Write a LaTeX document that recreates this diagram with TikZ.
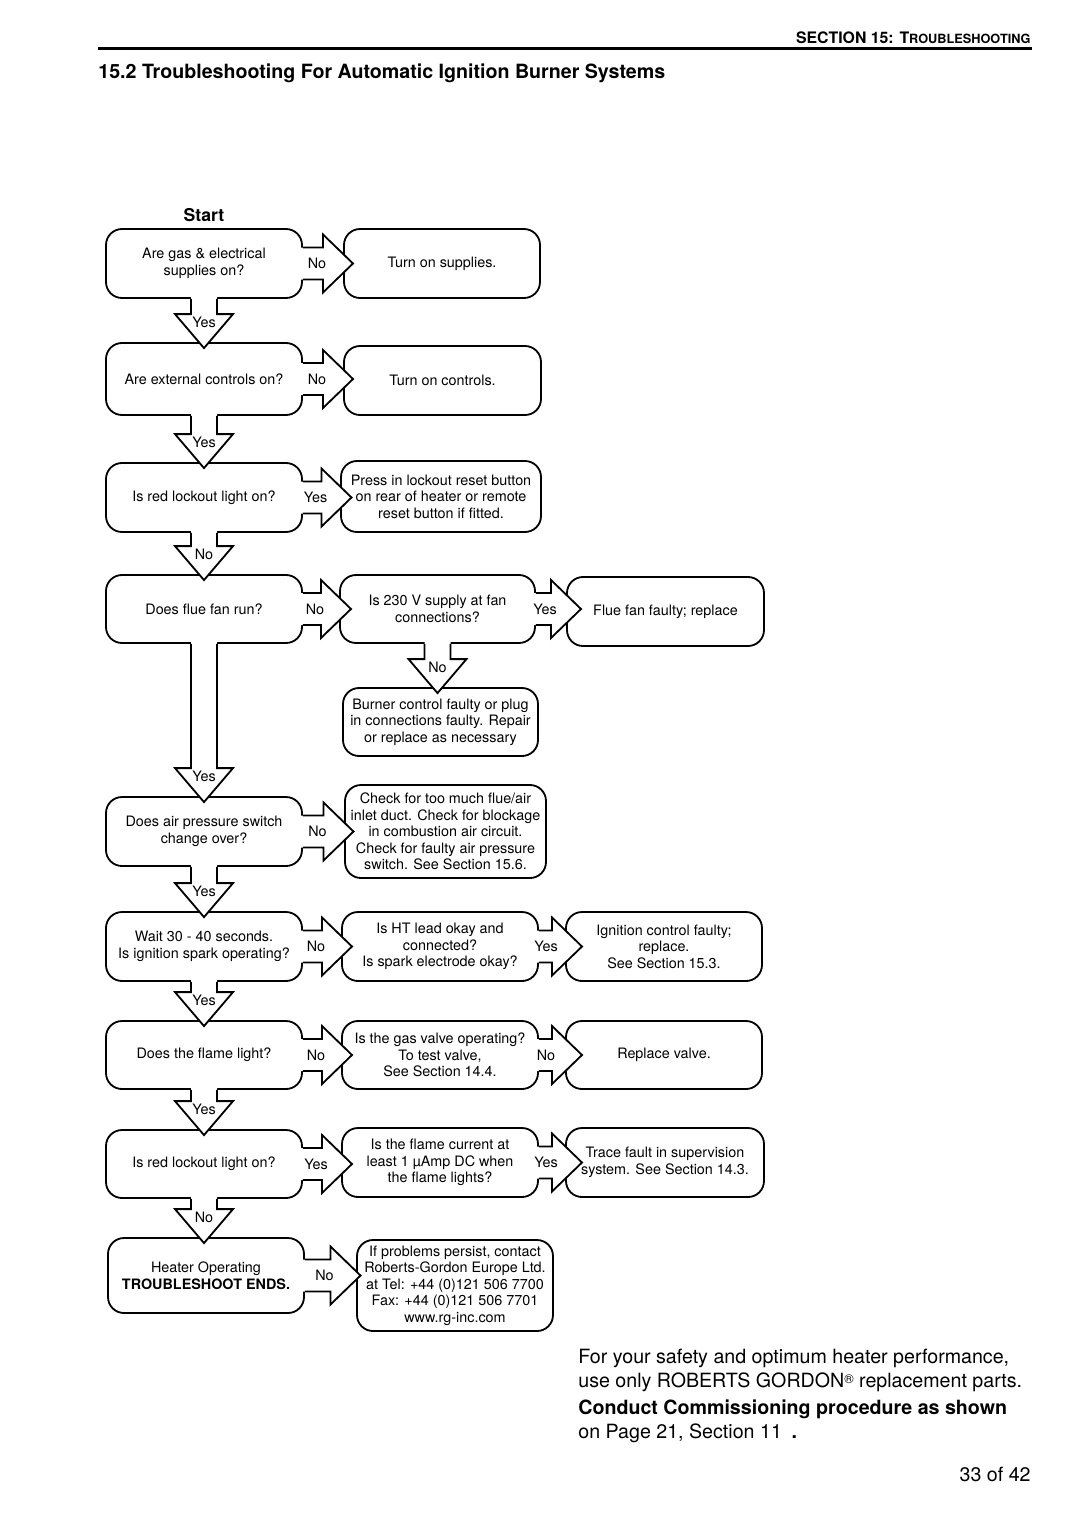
\documentclass[tikz,border=0pt]{standalone}
\usepackage{fontspec}
\setmainfont{TeX Gyre Heros}
\usetikzlibrary{calc}

\newcommand{\px}{0.55pt}
\newcommand{\boxfont}{\fontsize{7.9}{9.1}\selectfont}

% block arrow to the right, from box #1 into box #2
\newcommand{\rarrow}[3]{%
  \coordinate (hs) at (#1.east);
  \coordinate (hb) at ($(#1.east)!0.5!(#2.west |- #1.east)$);
  \fill[white] ($(hs)+(-3,-16)$) -- ($(hb)+(0,-16)$) -- ($(hb)+(0,-29)$) -- ($(hb)+(30,0)$)
    -- ($(hb)+(0,29)$) -- ($(hb)+(0,16)$) -- ($(hs)+(-3,16)$) -- cycle;
  \draw[flow] ($(hs)+(0,-16)$) -- ($(hb)+(0,-16)$) -- ($(hb)+(0,-29)$) -- ($(hb)+(30,0)$)
    -- ($(hb)+(0,29)$) -- ($(hb)+(0,16)$) -- ($(hs)+(0,16)$);
  \node[lbl] (#1#2) at ($(hb)+(-6,0)$) {#3};
}

% block arrow downwards, from box #1 into box #2
\newcommand{\darrow}[3]{%
  \coordinate (vs) at (#1.south);
  \coordinate (vb) at ($(#2.north -| #1.south)+(0,-28)$);
  \fill[white] ($(vs)+(-13,-3)$) -- ($(vb)+(-13,0)$) -- ($(vb)+(-29,0)$) -- ($(vb)+(0,34)$)
    -- ($(vb)+(29,0)$) -- ($(vb)+(13,0)$) -- ($(vs)+(13,-3)$) -- cycle;
  \draw[flow] ($(vs)+(-13,0)$) -- ($(vb)+(-13,0)$) -- ($(vb)+(-29,0)$) -- ($(vb)+(0,34)$)
    -- ($(vb)+(29,0)$) -- ($(vb)+(13,0)$) -- ($(vs)+(13,0)$);
  \node[lbl] (#1#2) at ($(vb)+(0,8)$) {#3};
}

\begin{document}
\begin{tikzpicture}[x=0.55pt,y=-0.55pt,
  box/.style={draw, line width=1pt, fill=white, rounded corners=8.8pt, align=center,
    inner sep=0pt, font=\boxfont, minimum width=196*\px, minimum height=69*\px},
  flow/.style={line width=1pt, line join=miter},
  lbl/.style={font=\boxfont, inner sep=0pt},
  page/.style={inner sep=0pt, font=\fontsize{10.8}{13}\selectfont}]
  \useasboundingbox (0,0) rectangle (1080,1527);

  % page head
  \node[anchor=base east, inner sep=0pt, font=\bfseries\fontsize{8.7}{10}\selectfont] (sect) at (1031,43)
    {SECTION 15: T{\fontsize{7}{8}\selectfont ROUBLESHOOTING}};
  \draw[line width=1.4pt] (98,48.5) -- (1032,48.5);
  \node[anchor=base west, inner sep=0pt, font=\bfseries\fontsize{10.8}{13}\selectfont] (title) at (98,78)
    {15.2 Troubleshooting For Automatic Ignition Burner Systems};
  \node[anchor=base, inner sep=0pt, font=\bfseries\fontsize{9.7}{11}\selectfont] (start) at (204,221) {Start};

  % boxes
  \node[box] (q1) at (204,263.5) {Are gas \& electrical\\supplies on?};
  \node[box] (a1) at (442,263.5) {Turn on supplies.};
  \node[box, minimum height=72*\px] (q2) at (204,379) {Are external controls on?};
  \node[box, minimum width=197*\px] (a2) at (442.5,380.5) {Turn on controls.};
  \node[box] (q3) at (204,497.5) {Is red lockout light on?};
  \node[box, minimum width=200*\px, minimum height=71*\px] (a3) at (441,496.5)
    {Press in lockout reset button\\on rear of heater or remote\\reset button if fitted.};
  \node[box, minimum height=68*\px] (q4) at (204,609) {Does flue fan run?};
  \node[box, minimum width=195*\px, minimum height=68*\px] (m4) at (437.5,609)
    {Is 230 V supply at fan\\connections?};
  \node[box, minimum width=197*\px] (r4) at (665.5,611.5) {Flue fan faulty; replace};
  \node[box, minimum width=195*\px, minimum height=68*\px] (b4) at (440.5,722)
    {Burner control faulty or plug\\in connections faulty. Repair\\or replace as necessary};
  \node[box] (q5) at (204,831.5) {Does air pressure switch\\change over?};
  \node[box, minimum width=201*\px, minimum height=93*\px] (a5) at (445.5,831.5)
    {Check for too much flue/air\\inlet duct. Check for blockage\\in combustion air circuit.\\Check for faulty air pressure\\switch. See Section 15.6.};
  \node[box] (q6) at (204,946.5) {Wait 30 - 40 seconds.\\Is ignition spark operating?};
  \node[box] (m6) at (440,946.5) {Is HT lead okay and\\connected?\\Is spark electrode okay?};
  \node[box] (r6) at (664,946.5) {Ignition control faulty;\\replace.\\See Section 15.3.};
  \node[box, minimum height=68*\px] (q7) at (204,1055) {Does the flame light?};
  \node[box, minimum height=68*\px] (m7) at (440,1055)
    {Is the gas valve operating?\\To test valve,\\See Section 14.4.};
  \node[box, minimum height=68*\px] (r7) at (664,1055) {Replace valve.};
  \node[box, minimum height=68*\px] (q8) at (204,1164) {Is red lockout light on?};
  \node[box] (m8) at (440,1162.5) {Is the flame current at\\least 1 µAmp DC when\\the flame lights?};
  \node[box, minimum width=198*\px] (r8) at (665,1162.5)
    {Trace fault in supervision\\system. See Section 14.3.};
  \node[box, minimum height=75*\px] (q9) at (206,1275.5)
    {Heater Operating\\\textbf{TROUBLESHOOT ENDS.}};
  \node[box, minimum height=91*\px] (a9) at (455,1285.5)
    {If problems persist, contact\\Roberts-Gordon Europe Ltd.\\at Tel: +44 (0)121 506 7700\\Fax: +44 (0)121 506 7701\\www.rg-inc.com};

  % arrows
  \rarrow{q1}{a1}{No}
  \darrow{q1}{q2}{Yes}
  \rarrow{q2}{a2}{No}
  \darrow{q2}{q3}{Yes}
  \rarrow{q3}{a3}{Yes}
  \darrow{q3}{q4}{No}
  \rarrow{q4}{m4}{No}
  \rarrow{m4}{r4}{Yes}
  \darrow{m4}{b4}{No}
  \darrow{q4}{q5}{Yes}
  \rarrow{q5}{a5}{No}
  \darrow{q5}{q6}{Yes}
  \rarrow{q6}{m6}{No}
  \rarrow{m6}{r6}{Yes}
  \darrow{q6}{q7}{Yes}
  \rarrow{q7}{m7}{No}
  \rarrow{m7}{r7}{No}
  \darrow{q7}{q8}{Yes}
  \rarrow{q8}{m8}{Yes}
  \rarrow{m8}{r8}{Yes}
  \darrow{q8}{q9}{No}
  \rarrow{q9}{a9}{No}

  % page foot
  \node[page, anchor=base west] (foot1) at (578,1363)
    {For your safety and optimum heater performance,};
  \node[page, anchor=base west] (foot2) at (578,1387)
    {use only ROBERTS GORDON{\fontsize{7}{8}\selectfont\raisebox{2.2pt}{®}} replacement parts.};
  \node[page, anchor=base west, font=\bfseries\fontsize{10.8}{13}\selectfont] (foot3) at (578,1414)
    {Conduct Commissioning procedure as shown};
  \node[page, anchor=base west] (foot4) at (578,1438)
    {on Page 21, Section 11\enspace\textbf{.}};
  \node[page, anchor=base east] (pagenum) at (1031,1481) {33 of 42};
\end{tikzpicture}
\end{document}
